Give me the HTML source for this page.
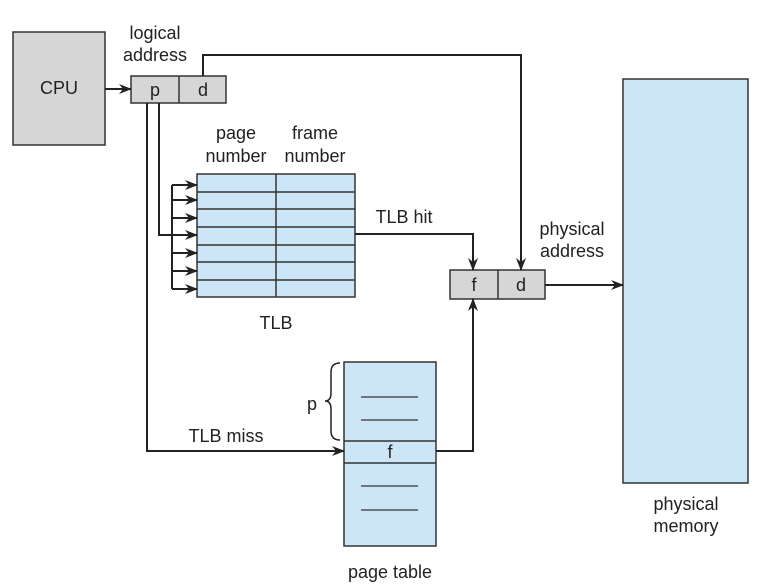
<!DOCTYPE html>
<html><head><style>body{margin:0;background:#fff}svg{display:block}text{font-family:"Liberation Sans",sans-serif;font-size:18px;fill:#222}</style></head><body>
<svg width="764" height="588" viewBox="0 0 764 588" xmlns="http://www.w3.org/2000/svg">
<defs><marker id="a" markerWidth="13" markerHeight="10" refX="12" refY="5" orient="auto" markerUnits="userSpaceOnUse"><path d="M0,0 L13,5 L0,10 L4,5 z" fill="#222"/></marker></defs>
<g stroke="#333" stroke-width="1.5">
<rect x="13" y="32" width="92" height="113" fill="#d6d6d6"/>
<rect x="131" y="76" width="95" height="27" fill="#d6d6d6"/>
<line x1="179" y1="76" x2="179" y2="103"/>
<rect x="197" y="174" width="158" height="123" fill="#cde6f7"/>
<line x1="276" y1="174" x2="276" y2="297"/>
<line x1="197" y1="192" x2="355" y2="192"/><line x1="197" y1="209" x2="355" y2="209"/>
<line x1="197" y1="227" x2="355" y2="227"/><line x1="197" y1="245" x2="355" y2="245"/>
<line x1="197" y1="262" x2="355" y2="262"/><line x1="197" y1="280" x2="355" y2="280"/>
<rect x="450" y="270" width="95" height="29" fill="#d6d6d6"/>
<line x1="498" y1="270" x2="498" y2="299"/>
<rect x="344" y="362" width="92" height="184" fill="#cde6f7"/>
<line x1="344" y1="441" x2="436" y2="441"/><line x1="344" y1="463" x2="436" y2="463"/>
<line x1="361" y1="397" x2="418" y2="397" stroke-width="1.2"/><line x1="361" y1="420" x2="418" y2="420" stroke-width="1.2"/>
<line x1="361" y1="486" x2="418" y2="486" stroke-width="1.2"/><line x1="361" y1="510" x2="418" y2="510" stroke-width="1.2"/>
<rect x="623" y="79" width="125" height="404" fill="#cde6f7"/>
</g>
<g stroke="#222" stroke-width="2" fill="none">
<line x1="105" y1="89" x2="131" y2="89" marker-end="url(#a)"/>
<polyline points="203,76 203,55 521,55 521,270" marker-end="url(#a)"/>
<polyline points="147,103 147,451 344,451" marker-end="url(#a)"/>
<polyline points="159,103 159,235 172,235"/>
<line x1="172" y1="185" x2="172" y2="289"/>
<line x1="172" y1="185" x2="197" y2="185" marker-end="url(#a)"/>
<line x1="172" y1="200" x2="197" y2="200" marker-end="url(#a)"/>
<line x1="172" y1="218" x2="197" y2="218" marker-end="url(#a)"/>
<line x1="172" y1="235" x2="197" y2="235" marker-end="url(#a)"/>
<line x1="172" y1="253" x2="197" y2="253" marker-end="url(#a)"/>
<line x1="172" y1="271" x2="197" y2="271" marker-end="url(#a)"/>
<line x1="172" y1="289" x2="197" y2="289" marker-end="url(#a)"/>
<polyline points="355,234 473,234 473,270" marker-end="url(#a)"/>
<polyline points="436,451 473,451 473,299" marker-end="url(#a)"/>
<line x1="545" y1="285" x2="623" y2="285" marker-end="url(#a)"/>
<path d="M340,363 Q331,363 331,372 L331,393 Q331,401 325,401 Q331,401 331,409 L331,431 Q331,440 340,440" stroke-width="1.5"/>
</g>
<g text-anchor="middle">
<text x="59" y="94">CPU</text>
<text x="155" y="39">logical</text><text x="155" y="61">address</text>
<text x="155" y="96">p</text><text x="203" y="96">d</text>
<text x="236" y="139">page</text><text x="236" y="162">number</text>
<text x="315" y="139">frame</text><text x="315" y="162">number</text>
<text x="276" y="329">TLB</text>
<text x="404" y="223">TLB hit</text>
<text x="572" y="235">physical</text><text x="572" y="257">address</text>
<text x="474" y="291">f</text><text x="521" y="291">d</text>
<text x="312" y="410">p</text>
<text x="226" y="442">TLB miss</text>
<text x="390" y="458">f</text>
<text x="390" y="578">page table</text>
<text x="686" y="510">physical</text><text x="686" y="532">memory</text>
</g>
</svg>
</body></html>
